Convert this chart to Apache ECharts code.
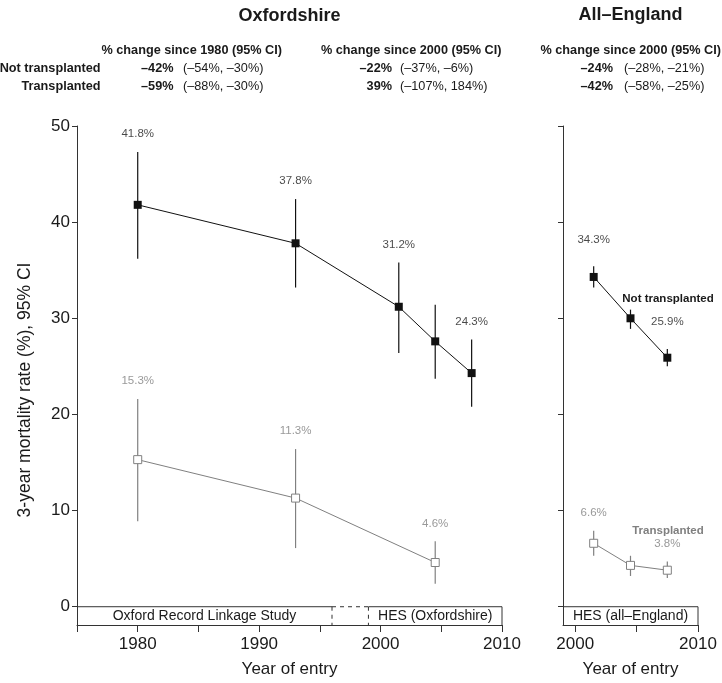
<!DOCTYPE html>
<html><head><meta charset="utf-8">
<script src="https://cdn.jsdelivr.net/npm/echarts@6/dist/echarts.min.js"></script>
<style>html,body{margin:0;padding:0;background:#fff}#c{width:722px;height:683px}</style>
</head><body><div id="c"></div>
<script>
// ---------- data ----------
const panelTitles = ['Oxfordshire', 'All–England'];
const headerTitles = ['% change since 1980 (95% CI)', '% change since 2000 (95% CI)', '% change since 2000 (95% CI)'];
const rowNames = ['Not transplanted', 'Transplanted'];
const changeNT = ['–42%', '–22%', '–24%'];
const ciNT = ['(–54%, –30%)', '(–37%, –6%)', '(–28%, –21%)'];
const changeT = ['–59%', '39%', '–42%'];
const ciT = ['(–88%, –30%)', '(–107%, 184%)', '(–58%, –25%)'];

const oxYears = [1980, 1993, 2001.5, 2004.5, 2007.5];
const oxNT = [41.8, 37.8, 31.2, 27.6, 24.3];
const oxNTLow = [36.2, 33.2, 26.4, 23.7, 20.8];
const oxNTHigh = [47.3, 42.4, 35.8, 31.4, 27.8];
const oxNTShown = [1, 1, 1, 0, 1];

const oxTYears = [1980, 1993, 2004.5];
const oxT = [15.3, 11.3, 4.6];
const oxTLow = [8.9, 6.1, 2.4];
const oxTHigh = [21.6, 16.4, 6.8];
const oxTShown = [1, 1, 1];

const engYears = [2001.5, 2004.5, 2007.5];
const engNT = [34.3, 30.0, 25.9];
const engNTLow = [33.2, 28.9, 25.0];
const engNTHigh = [35.4, 30.9, 26.8];
const engNTShown = [1, 0, 1];
const engT = [6.6, 4.3, 3.8];
const engTLow = [5.3, 3.2, 3.0];
const engTHigh = [7.9, 5.3, 4.7];
const engTShown = [1, 0, 1];

// data-source periods: [from, to, topDashed, rightDashed]
const oxSources = [[1975, 1996, 0, 1], [1996, 1999, 1, 1], [1999, 2010, 0, 0]];
const oxSourceLabels = ['Oxford Record Linkage Study', '', 'HES (Oxfordshire)'];
const engSources = [[1999, 2010, 0, 0]];
const engSourceLabels = ['HES (all–England)'];

const yTicks = [0, 10, 20, 30, 40, 50];
const oxXTicks = [1975, 1980, 1985, 1990, 1995, 2000, 2005, 2010];
const oxXLabels = [1980, 1990, 2000, 2010];
const engXTicks = [2000, 2005, 2010];
const engXLabels = [2000, 2010];
const yTitle = '3-year mortality rate (%), 95% CI';
const xTitle = 'Year of entry';
const annotNT = 'Not transplanted';
const annotT = 'Transplanted';

// ---------- chart ----------
const FONT = '"Liberation Sans", Arial, Helvetica, sans-serif';
const BLACK = '#111', GRAY = '#808080', AXIS = '#333', TXT = '#1a1a1a';
const Y_MIN = -1.9;

const chart = echarts.init(document.getElementById('c'), null, {renderer: 'canvas'});

function ptData(xs, v) { return xs.map((x, i) => [x, v[i]]); }
function errData(xs, lo, hi) { return xs.map((x, i) => [x, lo[i], hi[i]]); }
function lblData(xs, v, hi, shown) { return xs.map((x, i) => shown[i] ? [x, hi[i], v[i]] : null).filter(Boolean); }

function errRender(color) {
  return function (params, api) {
    const p1 = api.coord([api.value(0), api.value(1)]);
    const p2 = api.coord([api.value(0), api.value(2)]);
    return {type: 'line', shape: {x1: p1[0], y1: p1[1], x2: p2[0], y2: p2[1]},
            style: {stroke: color, lineWidth: 1.2}};
  };
}
function boxRender(labels) {
  return function (params, api) {
    const from = api.value(0), to = api.value(1);
    const topDash = api.value(2), rightDash = api.value(3);
    const tl = api.coord([from, 0]), tr = api.coord([to, 0]), br = api.coord([to, Y_MIN]);
    const children = [
      {type: 'line', shape: {x1: tl[0], y1: tl[1], x2: tr[0], y2: tr[1]},
       style: {stroke: AXIS, lineWidth: 1, lineDash: topDash ? [4, 4] : null}},
      {type: 'line', shape: {x1: tr[0], y1: tr[1], x2: br[0], y2: br[1]},
       style: {stroke: AXIS, lineWidth: 1, lineDash: rightDash ? [4, 4] : null}}
    ];
    const t = labels[params.dataIndex];
    if (t) {
      children.push({type: 'text', style: {text: t, x: (tl[0] + tr[0]) / 2, y: (tl[1] + br[1]) / 2 + 0.5,
        align: 'center', verticalAlign: 'middle', fill: TXT, font: '14px ' + FONT}});
    }
    return {type: 'group', children};
  };
}

function panelSeries(idx, years, nt, ntLo, ntHi, ntShown, tYears, t, tLo, tHi, tShown, sources, sourceLabels, ntDist, tDist) {
  const ax = {xAxisIndex: idx, yAxisIndex: idx};
  return [
    Object.assign({type: 'custom', renderItem: boxRender(sourceLabels), data: sources, z: 1, silent: true,
      encode: {x: [0, 1], y: 2}}, ax),
    Object.assign({type: 'custom', renderItem: errRender(BLACK), data: errData(years, ntLo, ntHi), z: 2, silent: true,
      encode: {x: 0, y: [1, 2]}}, ax),
    Object.assign({type: 'custom', renderItem: errRender(GRAY), data: errData(tYears, tLo, tHi), z: 2, silent: true,
      encode: {x: 0, y: [1, 2]}}, ax),
    Object.assign({type: 'line', data: ptData(years, nt), symbol: 'rect', symbolSize: 8, z: 3, silent: true,
      lineStyle: {color: BLACK, width: 1}, itemStyle: {color: BLACK}}, ax),
    Object.assign({type: 'line', data: ptData(tYears, t), symbol: 'rect', symbolSize: 8, z: 3, silent: true,
      showAllSymbol: true,
      lineStyle: {color: GRAY, width: 1}, itemStyle: {color: '#fff', borderColor: GRAY, borderWidth: 1}}, ax),
    Object.assign({type: 'scatter', data: lblData(years, nt, ntHi, ntShown), symbolSize: 0, z: 4, silent: true,
      label: {show: true, position: 'top', distance: ntDist, color: TXT, fontSize: 11.5, fontFamily: FONT,
        formatter: p => p.value[2].toFixed(1) + '%'}}, ax),
    Object.assign({type: 'scatter', data: lblData(tYears, t, tHi, tShown), symbolSize: 0, z: 4, silent: true,
      label: {show: true, position: 'top', distance: tDist, color: GRAY, fontSize: 11.5, fontFamily: FONT,
        formatter: p => p.value[2].toFixed(1) + '%'}}, ax)
  ];
}

function xAxis(idx, min, max, ticks, labels) {
  return {type: 'value', gridIndex: idx, min, max,
    axisLine: {show: true, onZero: false, lineStyle: {color: AXIS, width: 1}},
    axisTick: {show: true, customValues: ticks, length: 7, lineStyle: {color: AXIS, width: 1}},
    axisLabel: {customValues: labels, fontSize: 17, color: TXT, margin: 11, fontFamily: FONT,
      formatter: v => String(v)},
    splitLine: {show: false},
    name: xTitle, nameLocation: 'middle', nameGap: 36,
    nameTextStyle: {fontSize: 17, color: TXT, fontFamily: FONT}};
}
function yAxis(idx, showLabels) {
  return {type: 'value', gridIndex: idx, min: Y_MIN, max: 50,
    axisLine: {show: true, onZero: false, lineStyle: {color: AXIS, width: 1}},
    axisTick: {show: true, customValues: yTicks, length: 5, lineStyle: {color: AXIS, width: 1}},
    axisLabel: {show: showLabels, customValues: yTicks, fontSize: 17, color: TXT, margin: 7, fontFamily: FONT,
      formatter: v => String(v)},
    splitLine: {show: false}};
}

const graphics = [];
graphics.push({type: 'text', x: 289.5, y: 16, style: {text: panelTitles[0], align: 'center', verticalAlign: 'middle', font: 'bold 18px ' + FONT, fill: TXT}});
graphics.push({type: 'text', x: 630.5, y: 15, style: {text: panelTitles[1], align: 'center', verticalAlign: 'middle', font: 'bold 18px ' + FONT, fill: TXT}});

const colHeadX = [101.5, 321, 540.5];
const colChangeRight = [173.5, 392, 613];
const colCiLeft = [183, 400, 624];
const rowY = [68.3, 86.7];
for (let c = 0; c < 3; c++) {
  graphics.push({type: 'text', x: colHeadX[c], y: 50, style: {text: headerTitles[c], align: 'left', verticalAlign: 'middle', font: 'bold 12.7px ' + FONT, fill: TXT}});
  graphics.push({type: 'text', x: colChangeRight[c], y: rowY[0], style: {text: changeNT[c], align: 'right', verticalAlign: 'middle', font: 'bold 12.7px ' + FONT, fill: TXT}});
  graphics.push({type: 'text', x: colCiLeft[c], y: rowY[0], style: {text: ciNT[c], align: 'left', verticalAlign: 'middle', font: '12.7px ' + FONT, fill: TXT}});
  graphics.push({type: 'text', x: colChangeRight[c], y: rowY[1], style: {text: changeT[c], align: 'right', verticalAlign: 'middle', font: 'bold 12.7px ' + FONT, fill: TXT}});
  graphics.push({type: 'text', x: colCiLeft[c], y: rowY[1], style: {text: ciT[c], align: 'left', verticalAlign: 'middle', font: '12.7px ' + FONT, fill: TXT}});
}
graphics.push({type: 'text', x: 100.5, y: rowY[0], style: {text: rowNames[0], align: 'right', verticalAlign: 'middle', font: 'bold 12.7px ' + FONT, fill: TXT}});
graphics.push({type: 'text', x: 100.5, y: rowY[1], style: {text: rowNames[1], align: 'right', verticalAlign: 'middle', font: 'bold 12.7px ' + FONT, fill: TXT}});

graphics.push({type: 'text', x: 25, y: 390, rotation: Math.PI / 2,
  style: {text: yTitle, align: 'center', verticalAlign: 'middle', font: '17.5px ' + FONT, fill: TXT}});

graphics.push({type: 'text', x: 668, y: 299, style: {text: annotNT, align: 'center', verticalAlign: 'middle', font: 'bold 11.5px ' + FONT, fill: TXT}});
graphics.push({type: 'text', x: 668, y: 531, style: {text: annotT, align: 'center', verticalAlign: 'middle', font: 'bold 11.5px ' + FONT, fill: GRAY}});

const option = {
  animation: false,
  backgroundColor: '#fff',
  grid: [
    {left: 77, top: 126, width: 425, bottom: 56},
    {left: 563, top: 126, width: 135, bottom: 56}
  ],
  xAxis: [xAxis(0, 1975, 2010, oxXTicks, oxXLabels), xAxis(1, 1999, 2010, engXTicks, engXLabels)],
  yAxis: [yAxis(0, true), yAxis(1, false)],
  series: [].concat(
    panelSeries(0, oxYears, oxNT, oxNTLow, oxNTHigh, oxNTShown, oxTYears, oxT, oxTLow, oxTHigh, oxTShown, oxSources, oxSourceLabels, 12, 12),
    panelSeries(1, engYears, engNT, engNTLow, engNTHigh, engNTShown, engYears, engT, engTLow, engTHigh, engTShown, engSources, engSourceLabels, 21, 12)
  ),
  graphic: graphics
};
chart.setOption(option);
</script>
</body></html>
